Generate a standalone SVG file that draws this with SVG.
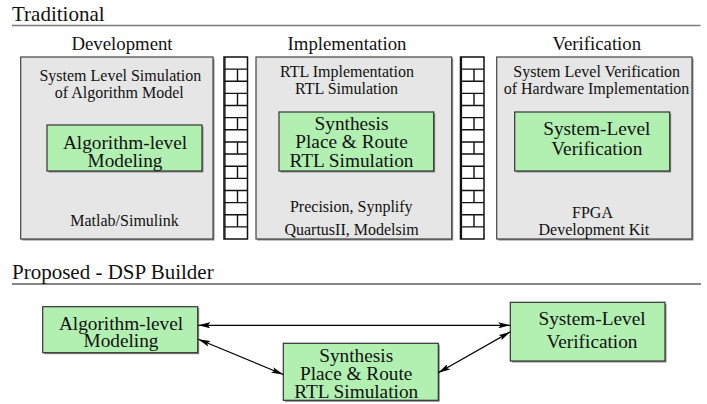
<svg xmlns="http://www.w3.org/2000/svg" width="707" height="404" viewBox="0 0 707 404">
  <style>
    text { font-family: "Liberation Serif", "Times New Roman", serif; fill: #111; text-anchor: middle; }
    .title { font-size: 21px; text-anchor: start; }
    .col { font-size: 18.8px; }
    .note { font-size: 16px; }
    .big { font-size: 19.3px; }
    .panel { fill: #e6e6e6; stroke: #444; stroke-width: 1.2; }
    .green { fill: #b2f0b2; stroke: #333; stroke-width: 1.2; }
    .shadow { fill: #8a8a8a; }
    .brick { fill: #ffffff; stroke: #111; stroke-width: 1.5; }
    .mortar { fill: none; stroke: #111; stroke-width: 1.4; }
    .link { fill: none; stroke: #000; stroke-width: 1.2; marker-start: url(#head); marker-end: url(#head); }
  </style>
  <defs>
    <marker id="head" viewBox="0 0 12 6" refX="12" refY="3" markerWidth="12" markerHeight="6" markerUnits="userSpaceOnUse" orient="auto-start-reverse">
      <path d="M0,0 L12,3 L0,6 L2.5,3 Z" fill="#000"/>
    </marker>
    <!-- brick wall separating the stages -->
    <g id="wall">
      <rect class="brick" x="0" y="0" width="23.5" height="182"/>
      <path class="mortar" d="M0,12.13H23.5M0,24.27H23.5M0,36.4H23.5M0,48.53H23.5M0,60.67H23.5M0,72.8H23.5M0,84.93H23.5M0,97.07H23.5M0,109.2H23.5M0,121.33H23.5M0,133.47H23.5M0,145.6H23.5M0,157.73H23.5M0,169.87H23.5
        M13.5,12.13V24.27M13.5,36.4V48.53M13.5,60.67V72.8M13.5,84.93V97.07M13.5,109.2V121.33M13.5,133.47V145.6M13.5,157.73V169.87"/>
      <path d="M1,0V182" stroke="#111" stroke-width="1.2"/>
    </g>
  </defs>

  <rect width="707" height="404" fill="#ffffff"/>

  <!-- Traditional flow -->
  <text class="title" x="12" y="21">Traditional</text>
  <line x1="12" y1="25.5" x2="700.5" y2="25.5" stroke="#7a7a7a" stroke-width="1.6"/>

  <g id="development">
    <text class="col" x="122" y="49.5">Development</text>
    <rect class="shadow" x="22.2" y="58.5" width="192.3" height="182"/>
    <rect class="panel" x="20.7" y="57" width="192.3" height="182"/>
    <text class="note" x="120.3" y="81">System Level Simulation</text>
    <text class="note" x="119.3" y="97.5">of Algorithm Model</text>
    <g id="dev-modeling">
      <rect class="shadow" x="48.5" y="126.5" width="155" height="46"/>
      <rect class="green" x="47" y="125" width="155" height="46"/>
      <text class="big" x="125" y="148.5">Algorithm-level</text>
      <text class="big" x="125" y="166.5">Modeling</text>
    </g>
    <text class="note" x="124.5" y="226">Matlab/Simulink</text>
  </g>

  <use href="#wall" x="224" y="57"/>

  <g id="implementation">
    <text class="col" x="347" y="49.5">Implementation</text>
    <rect class="shadow" x="257.5" y="58.5" width="195.7" height="182"/>
    <rect class="panel" x="256" y="57" width="195.7" height="182"/>
    <text class="note" x="347" y="76.5">RTL Implementation</text>
    <text class="note" x="346.5" y="94">RTL Simulation</text>
    <g id="impl-synthesis">
      <rect class="shadow" x="280.5" y="113.5" width="154.7" height="59"/>
      <rect class="green" x="279" y="112" width="154.7" height="59"/>
      <text class="big" x="351.5" y="130">Synthesis</text>
      <text class="big" x="351.5" y="148.3">Place &amp; Route</text>
      <text class="big" x="351.5" y="166.6">RTL Simulation</text>
    </g>
    <text class="note" x="351.3" y="211.5">Precision, Synplify</text>
    <text class="note" x="351.5" y="234.5">QuartusII, Modelsim</text>
  </g>

  <use href="#wall" x="460.5" y="57"/>

  <g id="verification">
    <text class="col" x="596.8" y="49.5">Verification</text>
    <rect class="shadow" x="498.2" y="58.5" width="195.3" height="182"/>
    <rect class="panel" x="496.7" y="57" width="195.3" height="182"/>
    <text class="note" x="596.7" y="77.3">System Level Verification</text>
    <text class="note" x="596.5" y="94">of Hardware Implementation</text>
    <g id="verif-system">
      <rect class="shadow" x="516.2" y="113.5" width="155" height="59"/>
      <rect class="green" x="514.7" y="112" width="155" height="59"/>
      <text class="big" x="596.8" y="135">System-Level</text>
      <text class="big" x="596.8" y="154.5">Verification</text>
    </g>
    <text class="note" x="592.5" y="218">FPGA</text>
    <text class="note" x="593.8" y="234.5">Development Kit</text>
  </g>

  <!-- Proposed flow -->
  <text class="title" x="12" y="279.3">Proposed - DSP Builder</text>
  <line x1="12" y1="284" x2="701" y2="284" stroke="#111" stroke-width="1.2"/>

  <g id="modeling">
    <rect class="shadow" x="44.2" y="308.2" width="155" height="46"/>
    <rect class="green" x="42.7" y="306.7" width="155" height="46"/>
    <text class="big" x="121" y="330">Algorithm-level</text>
    <text class="big" x="121" y="347">Modeling</text>
  </g>

  <g id="synthesis">
    <rect class="shadow" x="284.8" y="344.8" width="155" height="57"/>
    <rect class="green" x="283.3" y="343.3" width="155" height="57"/>
    <text class="big" x="356.2" y="361.7">Synthesis</text>
    <text class="big" x="356.2" y="379.5">Place &amp; Route</text>
    <text class="big" x="356.2" y="397.5">RTL Simulation</text>
  </g>

  <g id="system-level">
    <rect class="shadow" x="511.8" y="303.8" width="154.7" height="58.7"/>
    <rect class="green" x="510.3" y="302.3" width="154.7" height="58.7"/>
    <text class="big" x="592" y="325">System-Level</text>
    <text class="big" x="592" y="347.7">Verification</text>
  </g>

  <g id="connectors">
    <line class="link" x1="198.3" y1="325.3" x2="510.3" y2="325.3"/>
    <line class="link" x1="198.3" y1="339.3" x2="283.3" y2="374.5"/>
    <line class="link" x1="438.3" y1="372.7" x2="510.3" y2="331.8"/>
  </g>
</svg>
